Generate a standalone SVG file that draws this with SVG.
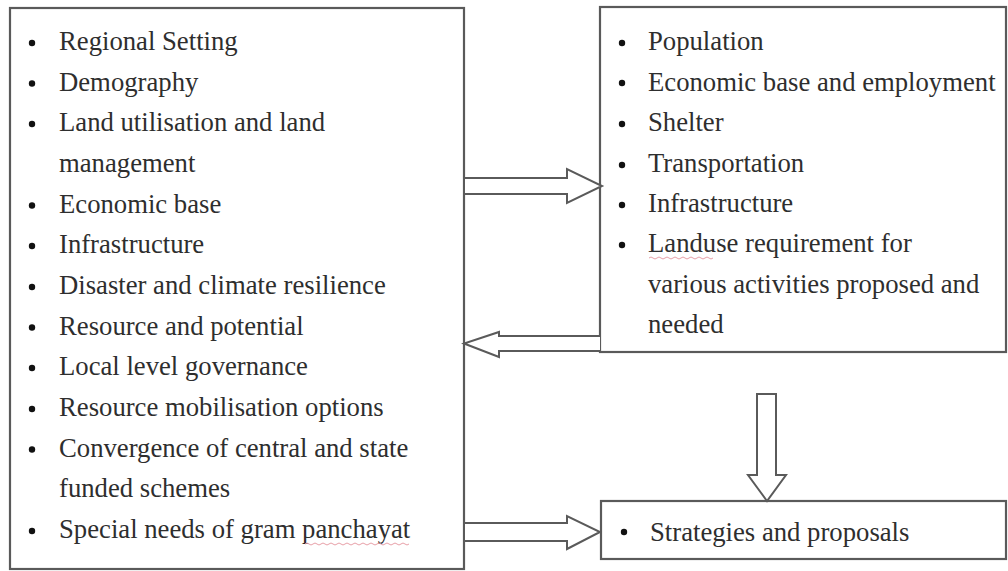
<svg xmlns="http://www.w3.org/2000/svg" width="1008" height="571" viewBox="0 0 1008 571">
<style>
.box{fill:#fff;stroke:#5a5a5a;stroke-width:2.2}
.arr{fill:#fff;stroke:#5a5a5a;stroke-width:2;stroke-linejoin:miter}
.t{font-family:"Liberation Serif","Times New Roman",serif;font-size:26.7px;fill:#2e2e2e}
.b{fill:#111}
.sq{fill:none;stroke:#e8a0a8;stroke-width:1}
</style>
<rect width="1008" height="571" fill="#fff"/>
<g id="context">
<rect class="box" x="10" y="8" width="454" height="561"/>
<g class="b">
<circle cx="32" cy="43" r="3.2"/><circle cx="32" cy="83.5" r="3.2"/><circle cx="32" cy="124" r="3.2"/>
<circle cx="32" cy="205.5" r="3.2"/><circle cx="32" cy="246" r="3.2"/><circle cx="32" cy="287" r="3.2"/>
<circle cx="32" cy="327.5" r="3.2"/><circle cx="32" cy="368" r="3.2"/><circle cx="32" cy="409" r="3.2"/>
<circle cx="32" cy="449.5" r="3.2"/><circle cx="32" cy="531" r="3.2"/>
</g>
<text class="t" x="59" y="50">Regional Setting</text>
<text class="t" x="59" y="90.5">Demography</text>
<text class="t" x="59" y="131">Land utilisation and land</text>
<text class="t" x="59" y="172">management</text>
<text class="t" x="59" y="212.5">Economic base</text>
<text class="t" x="59" y="253">Infrastructure</text>
<text class="t" x="59" y="294">Disaster and climate resilience</text>
<text class="t" x="59" y="334.5">Resource and potential</text>
<text class="t" x="59" y="375">Local level governance</text>
<text class="t" x="59" y="416">Resource mobilisation options</text>
<text class="t" x="59" y="456.5">Convergence of central and state</text>
<text class="t" x="59" y="497">funded schemes</text>
<text class="t" x="59" y="538">Special needs of gram panchayat</text>
<path class="sq" d="M305,544 q2,-2 4,0 t4,0 t4,0 t4,0 t4,0 t4,0 t4,0 t4,0 t4,0 t4,0 t4,0 t4,0 t4,0 t4,0 t4,0 t4,0 t4,0 t4,0 t4,0 t4,0 t4,0 t4,0 t4,0 t4,0 t4,0 t4,0"/>
</g>
<g id="requirements">
<rect class="box" x="600" y="7" width="406" height="345"/>
<g class="b">
<circle cx="622" cy="43" r="3.2"/><circle cx="622" cy="83" r="3.2"/><circle cx="622" cy="124" r="3.2"/>
<circle cx="622" cy="165" r="3.2"/><circle cx="622" cy="205" r="3.2"/><circle cx="622" cy="245" r="3.2"/>
</g>
<text class="t" x="648" y="50">Population</text>
<text class="t" x="648" y="90.5">Economic base and employment</text>
<text class="t" x="648" y="131">Shelter</text>
<text class="t" x="648" y="172">Transportation</text>
<text class="t" x="648" y="212">Infrastructure</text>
<text class="t" x="648" y="252">Landuse requirement for</text>
<text class="t" x="648" y="293">various activities proposed and</text>
<text class="t" x="648" y="333">needed</text>
<path class="sq" d="M649,258 q2,-2 4,0 t4,0 t4,0 t4,0 t4,0 t4,0 t4,0 t4,0 t4,0 t4,0 t4,0 t4,0 t4,0 t4,0 t4,0 t4,0"/>
</g>
<g id="strategies">
<rect class="box" x="601" y="501" width="405" height="58"/>
<circle class="b" cx="624" cy="532" r="3.2"/>
<text class="t" x="650" y="541">Strategies and proposals</text>
</g>
<g id="connectors">
<path class="arr" d="M465,178 H567 V169 L602,186 L567,203 V194 H465"/>
<path class="arr" d="M600,336 H499 V332 L464,343.5 L499,357 V351 H600"/>
<path class="arr" d="M757,475 V394 H776 V475 H786 L767,501 L748,475 Z"/>
<path class="arr" d="M465,523 H567 V516 L600,532 L567,549 V541 H465"/>
</g>
</svg>
